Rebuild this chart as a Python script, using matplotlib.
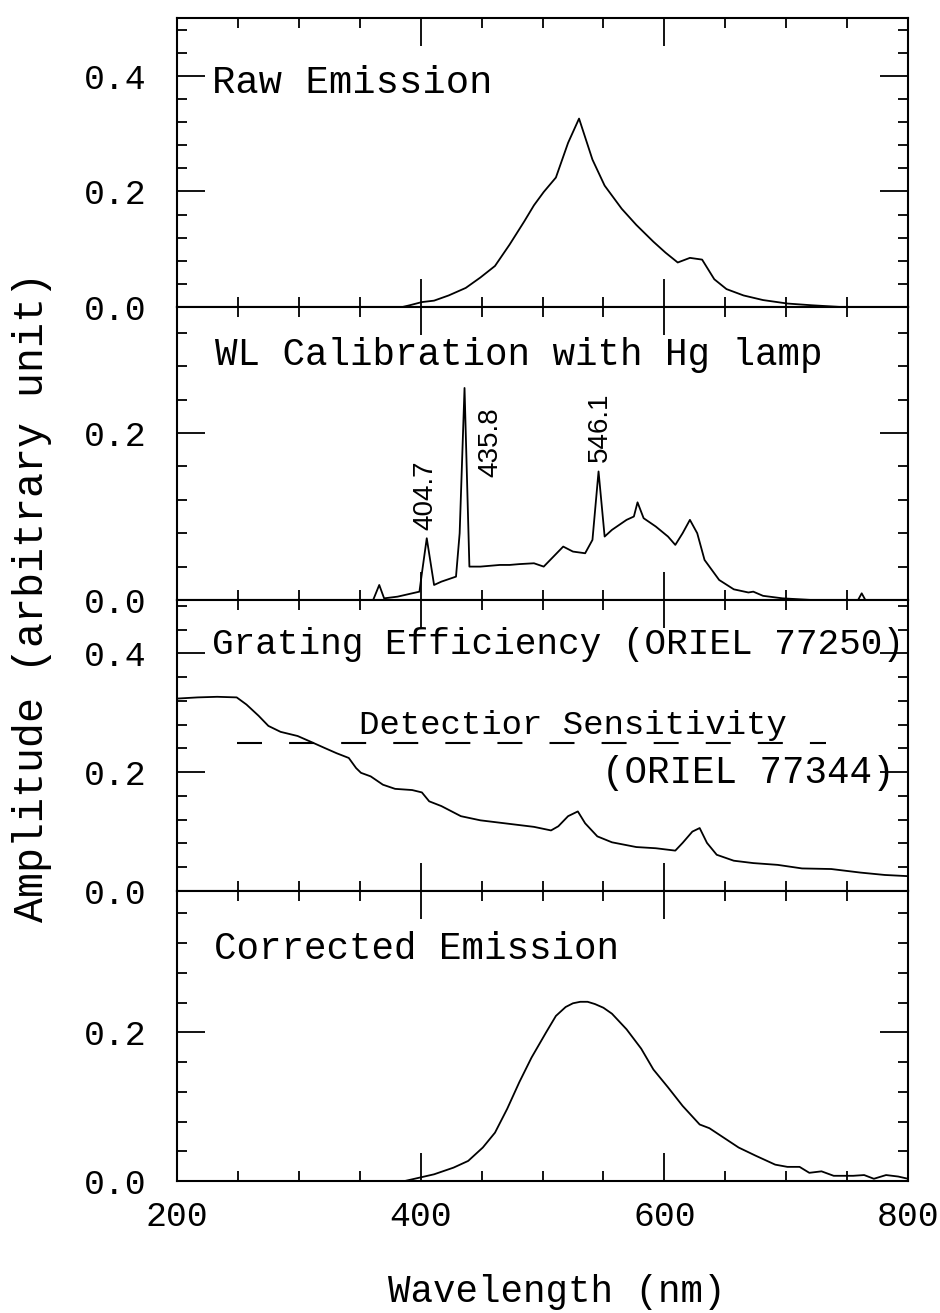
import matplotlib.pyplot as plt
from matplotlib.ticker import MultipleLocator

# raw emission spectrum
raw_wl = [200, 385, 391, 401, 411, 423, 437, 449, 461, 473, 485, 493, 501, 511,
          521, 530, 541, 551, 565, 577, 591, 601, 611, 621, 631, 641, 651, 665,
          681, 701, 721, 745, 800]
raw_amp = [0, 0, 0.003, 0.0085, 0.011, 0.02, 0.033, 0.051, 0.071, 0.108, 0.148,
           0.176, 0.199, 0.224, 0.284, 0.326, 0.255, 0.21, 0.17, 0.142, 0.113,
           0.094, 0.077, 0.085, 0.082, 0.048, 0.031, 0.02, 0.012, 0.006, 0.003,
           0, 0]

# Hg lamp calibration spectrum
hg_wl = [200, 361, 366, 370, 381, 393, 399, 401, 405, 411, 417, 429, 432, 436,
         440, 449, 465, 473, 481, 493, 501, 509, 517, 525, 535, 541, 546, 551,
         557, 569, 575, 578, 583, 593, 603, 609, 615, 621, 627, 633, 645, 657,
         669, 673, 681, 697, 721, 759, 762, 765, 800]
hg_amp = [0, 0, 0.018, 0.002, 0.004, 0.008, 0.01, 0.032, 0.074, 0.018, 0.022,
          0.028, 0.08, 0.254, 0.04, 0.04, 0.042, 0.042, 0.043, 0.044, 0.04,
          0.052, 0.064, 0.058, 0.056, 0.072, 0.154, 0.076, 0.084, 0.096, 0.1,
          0.117, 0.098, 0.088, 0.076, 0.066, 0.08, 0.096, 0.08, 0.048, 0.024,
          0.0128, 0.009, 0.01, 0.005, 0.002, 0, 0, 0.008, 0, 0]
hg_lines = ['404.7', '435.8', '546.1']
hg_label_x = [404, 457, 547]
hg_label_y = [0.126, 0.189, 0.207]

# grating efficiency
grating_wl = [200, 217, 233, 249, 257, 267, 275, 285, 299, 309, 321, 331, 341,
              347, 351, 359, 369, 379, 393, 401, 407, 417, 433, 449, 473, 493,
              507, 513, 521, 529, 535, 545, 557, 577, 593, 609, 615, 623, 629,
              635, 643, 657, 673, 693, 713, 737, 761, 781, 800]
grating_amp = [0.324, 0.326, 0.327, 0.326, 0.314, 0.295, 0.278, 0.268, 0.261,
               0.252, 0.241, 0.232, 0.224, 0.207, 0.199, 0.193, 0.179, 0.172,
               0.17, 0.166, 0.151, 0.143, 0.126, 0.119, 0.113, 0.108, 0.102,
               0.109, 0.126, 0.134, 0.114, 0.092, 0.082, 0.074, 0.072, 0.068,
               0.081, 0.1, 0.106, 0.081, 0.061, 0.051, 0.047, 0.044, 0.038,
               0.037, 0.031, 0.027, 0.025]

# detector sensitivity (dashed)
detector_wl = [249, 733]
detector_amp = [0.25, 0.25]

# corrected emission
corr_wl = [200, 387, 395, 411, 427, 439, 451, 461, 471, 481, 491, 503, 511, 519,
           525, 531, 537, 543, 550, 557, 569, 581, 591, 603, 615, 629, 637, 649,
           661, 675, 691, 701, 711, 719, 729, 739, 755, 764, 772, 782, 792, 800]
corr_amp = [0, 0, 0.003, 0.009, 0.018, 0.027, 0.045, 0.065, 0.097, 0.133, 0.166,
            0.2, 0.222, 0.234, 0.239, 0.241, 0.241, 0.238, 0.233, 0.225, 0.204,
            0.178, 0.15, 0.126, 0.101, 0.076, 0.071, 0.058, 0.045, 0.034, 0.022,
            0.019, 0.019, 0.011, 0.013, 0.007, 0.007, 0.008, 0.003, 0.008,
            0.006, 0.003]

plt.rcParams['font.family'] = ['Liberation Mono', 'DejaVu Sans Mono']

W, H = 940, 1313
left_px, right_px = 177, 908
edges = [18, 307, 600, 891, 1181]
ytops = [0.5, 0.351, 0.49, 0.39]

fig = plt.figure(figsize=(W / 100, H / 100), dpi=100)
axes = []
for i in range(4):
    top, bot = edges[i], edges[i + 1]
    ax = fig.add_axes([left_px / W, 1 - bot / H, (right_px - left_px) / W,
                       (bot - top) / H])
    ax.set_xlim(200, 800)
    ax.set_ylim(0, ytops[i])
    ax.xaxis.set_major_locator(MultipleLocator(200))
    ax.xaxis.set_minor_locator(MultipleLocator(50))
    ax.yaxis.set_major_locator(MultipleLocator(0.2))
    ax.yaxis.set_minor_locator(MultipleLocator(0.04))
    ax.tick_params(which='both', direction='in', top=True, right=True,
                   width=1.3, colors='black')
    ax.tick_params(which='major', length=20)
    ax.tick_params(which='minor', length=7)
    ax.tick_params(axis='y', labelsize=25, pad=22)
    ax.tick_params(axis='x', labelsize=25, pad=14)
    ax.yaxis.set_major_formatter(plt.FuncFormatter(lambda v, p: '%.1f' % v))
    if i < 3:
        ax.tick_params(labelbottom=False)
    for s in ax.spines.values():
        s.set_linewidth(1.5)
    axes.append(ax)

lw = 1.3
ax1, ax2, ax3, ax4 = axes
ax1.plot(raw_wl, raw_amp, color='black', lw=lw)
ax1.text(229, 0.37, 'Raw Emission', fontsize=28, va='baseline')

ax2.plot(hg_wl, hg_amp, color='black', lw=lw)
ax2.text(231, 0.282, 'WL Calibration with Hg lamp', fontsize=27, va='baseline')
for lab, lx, ly in zip(hg_lines, hg_label_x, hg_label_y):
    ax2.text(lx, ly, lab, rotation=90, ha='center', va='center', fontsize=20,
             family='Liberation Sans')

ax3.plot(grating_wl, grating_amp, color='black', lw=lw)
ax3.plot(detector_wl, detector_amp, color='black', lw=1.5, dashes=(12, 13))
ax3.text(229, 0.399, 'Grating Efficiency (ORIEL 77250)', fontsize=26,
         va='baseline')
ax3.text(349, 0.264, 'Detectior Sensitivity', fontsize=24.5, va='baseline')
ax3.text(549, 0.182, '(ORIEL 77344)', fontsize=27, va='baseline')

ax4.plot(corr_wl, corr_amp, color='black', lw=lw)
ax4.text(230, 0.299, 'Corrected Emission', fontsize=27, va='baseline')

fig.text(32 / W, 1 - 597 / H, 'Amplitude (arbitrary unit)', rotation=90,
         ha='center', va='center', fontsize=30)
fig.text(557 / W, 1 - 1292 / H, 'Wavelength (nm)', ha='center', va='center',
         fontsize=27)

fig.savefig('out.png', dpi=100)
